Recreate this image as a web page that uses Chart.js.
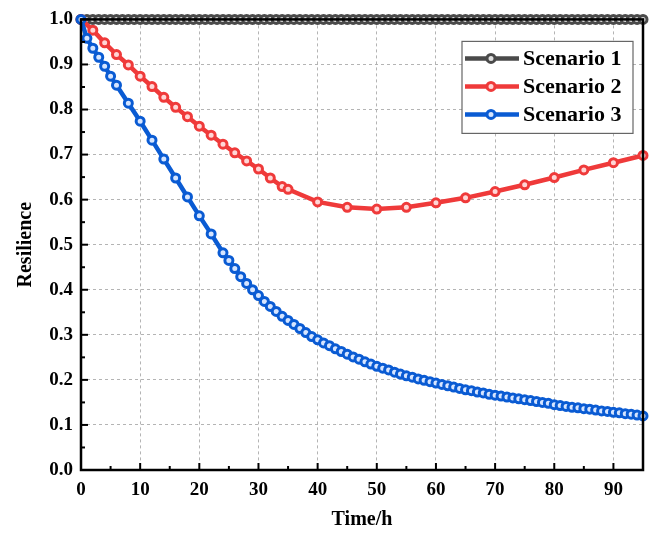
<!DOCTYPE html>
<html>
<head>
<meta charset="utf-8">
<script src="https://cdn.jsdelivr.net/npm/chart.js@4.4.1/dist/chart.umd.min.js"></script>
<style>
  html, body { margin: 0; padding: 0; background: #fff; }
  #wrap { width: 653px; height: 534px; }
</style>
</head>
<body>
<div id="wrap"><canvas id="chart" width="653" height="534"></canvas></div>
<script>
// series names and colours
var seriesNames = ["Scenario 1", "Scenario 2", "Scenario 3"];
var seriesColors = ["#4a4a4a", "#ef3a3a", "#0a5bd3"];
var markerFill = ["#e0e0e0", "#ffd6d6", "#d6e5ff"];

// scenario 1 - stays at 1.0
var time1 = [0, 1, 2, 3, 4, 5, 6, 7, 8, 9, 10, 11, 12, 13, 14, 15, 16, 17, 18, 19,
    20, 21, 22, 23, 24, 25, 26, 27, 28, 29, 30, 31, 32, 33, 34, 35, 36, 37, 38, 39,
    40, 41, 42, 43, 44, 45, 46, 47, 48, 49, 50, 51, 52, 53, 54, 55, 56, 57, 58, 59,
    60, 61, 62, 63, 64, 65, 66, 67, 68, 69, 70, 71, 72, 73, 74, 75, 76, 77, 78, 79,
    80, 81, 82, 83, 84, 85, 86, 87, 88, 89, 90, 91, 92, 93, 94, 95];
var res1 = [1, 1, 1, 1, 1, 1, 1, 1, 1, 1, 1, 1, 1, 1, 1, 1, 1, 1, 1, 1,
    1, 1, 1, 1, 1, 1, 1, 1, 1, 1, 1, 1, 1, 1, 1, 1, 1, 1, 1, 1,
    1, 1, 1, 1, 1, 1, 1, 1, 1, 1, 1, 1, 1, 1, 1, 1, 1, 1, 1, 1,
    1, 1, 1, 1, 1, 1, 1, 1, 1, 1, 1, 1, 1, 1, 1, 1, 1, 1, 1, 1,
    1, 1, 1, 1, 1, 1, 1, 1, 1, 1, 1, 1, 1, 1, 1, 1];

// scenario 2
var time2 = [0, 2, 4, 6, 8, 10, 12, 14, 16, 18, 20, 22, 24, 26, 28, 30, 32, 34, 35,
    40, 45, 50, 55, 60, 65, 70, 75, 80, 85, 90, 95];
var res2 = [1.0, 0.976, 0.948, 0.922, 0.899, 0.874, 0.851, 0.827, 0.805, 0.784, 0.763,
    0.743, 0.723, 0.704, 0.686, 0.668, 0.648, 0.629, 0.623,
    0.595, 0.583, 0.579, 0.583, 0.593, 0.604, 0.618, 0.633, 0.649, 0.666, 0.682, 0.698];

// scenario 3
var time3 = [0, 1, 2, 3, 4, 5, 6, 8, 10, 12, 14, 16, 18, 20, 22,
    24, 25, 26, 27, 28, 29, 30, 31, 32, 33, 34, 35, 36, 37, 38, 39,
    40, 41, 42, 43, 44, 45, 46, 47, 48, 49, 50, 51, 52, 53, 54, 55, 56, 57, 58, 59,
    60, 61, 62, 63, 64, 65, 66, 67, 68, 69, 70, 71, 72, 73, 74, 75, 76, 77, 78, 79,
    80, 81, 82, 83, 84, 85, 86, 87, 88, 89, 90, 91, 92, 93, 94, 95];
var res3 = [1.0, 0.958, 0.936, 0.916, 0.896, 0.874, 0.854, 0.814, 0.774, 0.732, 0.690, 0.648, 0.606, 0.564, 0.524,
    0.482, 0.465, 0.447, 0.429, 0.414, 0.400, 0.387, 0.374, 0.363, 0.352, 0.341, 0.332, 0.323, 0.314, 0.305, 0.296,
    0.289, 0.282, 0.276, 0.269, 0.263, 0.257, 0.251, 0.246, 0.240, 0.235, 0.230, 0.226, 0.222, 0.217, 0.213, 0.209, 0.206, 0.202, 0.199, 0.196,
    0.193, 0.190, 0.187, 0.184, 0.181, 0.178, 0.176, 0.173, 0.171, 0.168, 0.166, 0.164, 0.162, 0.160, 0.158, 0.156, 0.154, 0.152, 0.150, 0.148,
    0.145, 0.143, 0.141, 0.139, 0.138, 0.136, 0.135, 0.133, 0.131, 0.130, 0.128, 0.127, 0.125, 0.124, 0.122, 0.120];

// axis ticks
var xTicks = [0, 10, 20, 30, 40, 50, 60, 70, 80, 90];
var xMinorTicks = [5, 15, 25, 35, 45, 55, 65, 75, 85];
var yTicks = [0, 0.1, 0.2, 0.3, 0.4, 0.5, 0.6, 0.7, 0.8, 0.9, 1.0];
var yMinorTicks = [0.05, 0.15, 0.25, 0.35, 0.45, 0.55, 0.65, 0.75, 0.85, 0.95];

var serif = "'Liberation Serif', 'Times New Roman', serif";

function toPoints(xs, ys) {
    var pts = [];
    for (var i = 0; i < xs.length; i++) {
        pts.push({ x: xs[i], y: ys[i] });
    }
    return pts;
}

function makeSet(idx, xs, ys, order) {
    return {
        label: seriesNames[idx],
        data: toPoints(xs, ys),
        borderColor: seriesColors[idx],
        backgroundColor: seriesColors[idx],
        borderWidth: 4.5,
        pointRadius: 4,
        pointBorderWidth: 3,
        pointBorderColor: seriesColors[idx],
        pointBackgroundColor: markerFill[idx],
        tension: 0,
        clip: false,
        order: order
    };
}

// frame, inward ticks and the boxed legend
var framePlugin = {
    id: 'frame',
    afterDraw: function (c) {
        var ctx = c.ctx;
        var a = c.chartArea;
        var xs = c.scales.x, ys = c.scales.y;
        ctx.save();
        ctx.strokeStyle = '#000';
        ctx.lineWidth = 2;
        xTicks.forEach(function (v) {
            var px = xs.getPixelForValue(v);
            ctx.beginPath(); ctx.moveTo(px, a.bottom); ctx.lineTo(px, a.bottom - 7); ctx.stroke();
        });
        xMinorTicks.forEach(function (v) {
            var px = xs.getPixelForValue(v);
            ctx.beginPath(); ctx.moveTo(px, a.bottom); ctx.lineTo(px, a.bottom - 4); ctx.stroke();
        });
        yTicks.forEach(function (v) {
            var py = ys.getPixelForValue(v);
            ctx.beginPath(); ctx.moveTo(a.left, py); ctx.lineTo(a.left + 7, py); ctx.stroke();
        });
        yMinorTicks.forEach(function (v) {
            var py = ys.getPixelForValue(v);
            ctx.beginPath(); ctx.moveTo(a.left, py); ctx.lineTo(a.left + 4, py); ctx.stroke();
        });
        ctx.lineWidth = 2.5;
        ctx.strokeRect(a.left, a.top, a.right - a.left, a.bottom - a.top);

        // legend
        var bx = a.left + 381, by = a.top + 22, bw = 171, bh = 92;
        ctx.fillStyle = '#fff';
        ctx.fillRect(bx, by, bw, bh);
        ctx.strokeStyle = '#666';
        ctx.lineWidth = 1.2;
        ctx.strokeRect(bx, by, bw, bh);
        ctx.font = 'bold 22px ' + serif;
        ctx.textBaseline = 'middle';
        for (var i = 0; i < seriesNames.length; i++) {
            var ly = by + 17 + i * 28;
            ctx.strokeStyle = seriesColors[i];
            ctx.lineWidth = 4.5;
            ctx.beginPath(); ctx.moveTo(bx + 3, ly); ctx.lineTo(bx + 57, ly); ctx.stroke();
            ctx.beginPath();
            ctx.arc(bx + 29, ly, 4, 0, Math.PI * 2);
            ctx.fillStyle = markerFill[i];
            ctx.fill();
            ctx.lineWidth = 3;
            ctx.stroke();
            ctx.fillStyle = '#000';
            ctx.fillText(seriesNames[i], bx + 61, ly + 1);
        }
        ctx.restore();
    }
};

var ctx = document.getElementById('chart');

chart = new Chart(ctx, {
    type: 'line',
    data: {
        datasets: [
            makeSet(0, time1, res1, 2),
            makeSet(1, time2, res2, 1),
            makeSet(2, time3, res3, 0)
        ]
    },
    options: {
        responsive: false,
        animation: false,
        layout: { padding: { top: 18, right: 10, left: 0, bottom: 0 } },
        plugins: {
            legend: { display: false },
            tooltip: { enabled: false }
        },
        scales: {
            x: {
                type: 'linear',
                min: 0,
                max: 95,
                afterBuildTicks: function (s) {
                    s.ticks = xTicks.map(function (v) { return { value: v }; });
                },
                afterFit: function (s) { s.height = 64; },
                grid: { color: '#b4b4b4', lineWidth: 1, drawTicks: false },
                border: { display: false, dash: [3, 3] },
                ticks: {
                    padding: 9,
                    color: '#000',
                    maxRotation: 0,
                    font: { family: serif, size: 19, weight: 'bold' }
                },
                title: {
                    display: true,
                    text: 'Time/h',
                    color: '#000',
                    padding: { top: 0, bottom: 2 },
                    font: { family: serif, size: 20, weight: 'bold' }
                }
            },
            y: {
                min: 0,
                max: 1.0,
                afterBuildTicks: function (s) {
                    s.ticks = yTicks.map(function (v) { return { value: v }; });
                },
                afterFit: function (s) { s.width = 81; },
                grid: { color: '#b4b4b4', lineWidth: 1, drawTicks: false },
                border: { display: false, dash: [3, 3] },
                ticks: {
                    padding: 8,
                    color: '#000',
                    font: { family: serif, size: 19, weight: 'bold' },
                    callback: function (v) { return v.toFixed(1); }
                },
                title: {
                    display: true,
                    text: 'Resilience',
                    color: '#000',
                    padding: { top: 14, bottom: 0 },
                    font: { family: serif, size: 20, weight: 'bold' }
                }
            }
        }
    },
    plugins: [framePlugin]
});
</script>
</body>
</html>
